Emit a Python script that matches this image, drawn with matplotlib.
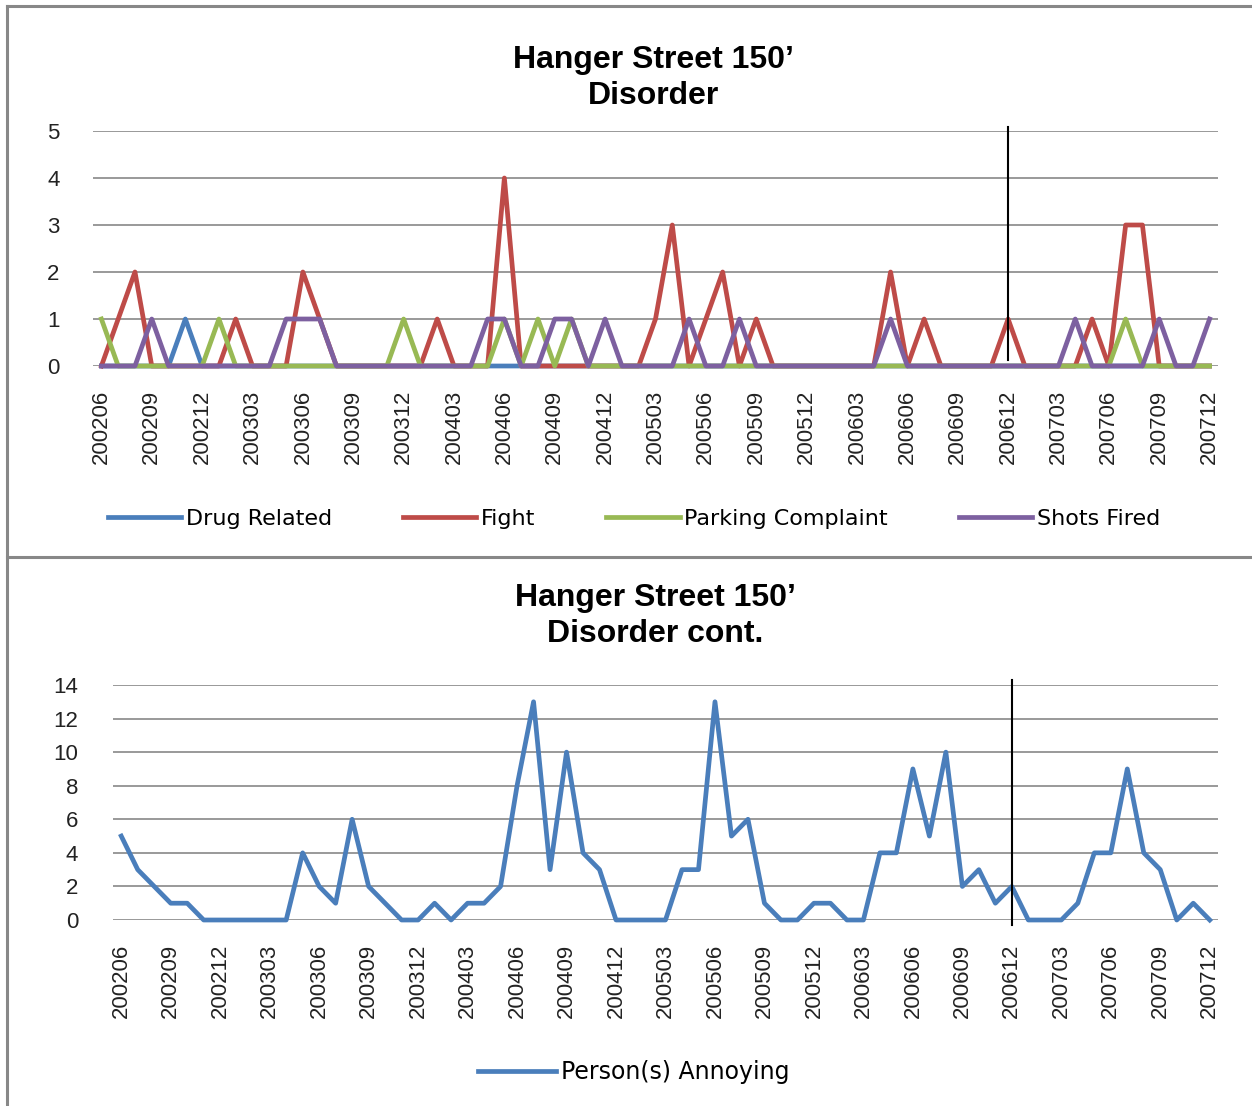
import numpy as np
import pandas as pd
import matplotlib
matplotlib.use("Agg")
import matplotlib.pyplot as plt
from matplotlib.lines import Line2D

plt.rcParams["font.family"] = ["DejaVu Sans"]

# --- data ---
months = [p.strftime("%Y%m") for p in pd.period_range("2002-06", "2007-12", freq="M")]

drug_related = [0, 0, 0, 0, 0, 1, 0, 0, 0, 0, 0, 0, 0, 0, 0, 0, 0, 0, 0, 0,
                0, 0, 0, 0, 0, 0, 0, 0, 0, 0, 0, 0, 0, 0, 0, 0, 0, 0, 0, 0,
                0, 0, 0, 0, 0, 0, 0, 0, 0, 0, 0, 0, 0, 0, 0, 0, 0, 0, 0, 0,
                0, 0, 0, 0, 0, 0, 0]
fight = [0, 1, 2, 0, 0, 0, 0, 0, 1, 0, 0, 0, 2, 1, 0, 0, 0, 0, 0, 0,
         1, 0, 0, 0, 4, 0, 0, 0, 0, 0, 0, 0, 0, 1, 3, 0, 1, 2, 0, 1,
         0, 0, 0, 0, 0, 0, 0, 2, 0, 1, 0, 0, 0, 0, 1, 0, 0, 0, 0, 1,
         0, 3, 3, 0, 0, 0, 0]
parking = [1, 0, 0, 0, 0, 0, 0, 1, 0, 0, 0, 0, 0, 0, 0, 0, 0, 0, 1, 0,
           0, 0, 0, 0, 1, 0, 1, 0, 1, 0, 0, 0, 0, 0, 0, 0, 0, 0, 0, 0,
           0, 0, 0, 0, 0, 0, 0, 0, 0, 0, 0, 0, 0, 0, 0, 0, 0, 0, 0, 0,
           0, 1, 0, 0, 0, 0, 0]
shots_fired = [0, 0, 0, 1, 0, 0, 0, 0, 0, 0, 0, 1, 1, 1, 0, 0, 0, 0, 0, 0,
               0, 0, 0, 1, 1, 0, 0, 1, 1, 0, 1, 0, 0, 0, 0, 1, 0, 0, 1, 0,
               0, 0, 0, 0, 0, 0, 0, 1, 0, 0, 0, 0, 0, 0, 0, 0, 0, 0, 1, 0,
               0, 0, 0, 1, 0, 0, 1]
persons_annoying = [5, 3, 2, 1, 1, 0, 0, 0, 0, 0, 0, 4, 2, 1, 6, 2, 1, 0, 0, 1,
                    0, 1, 1, 2, 8, 13, 3, 10, 4, 3, 0, 0, 0, 0, 3, 3, 13, 5, 6, 1,
                    0, 0, 1, 1, 0, 0, 4, 4, 9, 5, 10, 2, 3, 1, 2, 0, 0, 0, 1, 4,
                    4, 9, 4, 3, 0, 1, 0]

marker_month = "200612"

top_series = [
    ("Drug Related", drug_related, "#4A7EBB"),
    ("Fight", fight, "#BE4B48"),
    ("Parking Complaint", parking, "#98B954"),
    ("Shots Fired", shots_fired, "#7D60A0"),
]

W, H = 1252, 1106
fig = plt.figure(figsize=(W / 100, H / 100), dpi=100)
x = np.arange(len(months))
grid_col = "#878787"


def style_axes(ax, ymax, ystep, ypad):
    ax.set_xlim(-0.5, len(months) - 0.5)
    ax.set_ylim(0, ymax)
    ax.set_yticks(np.arange(0, ymax + 1, ystep))
    ax.set_xticks(x[::3])
    ax.set_xticklabels(months[::3], rotation=90)
    for s in ax.spines.values():
        s.set_visible(False)
    ax.tick_params(axis="both", length=0, labelsize=16, labelcolor="#222222")
    ax.tick_params(axis="x", pad=17)
    ax.tick_params(axis="y", pad=ypad)
    for lab in ax.get_xticklabels() + ax.get_yticklabels():
        lab.set_family("Liberation Sans")
    ax.yaxis.grid(True, color=grid_col, linewidth=1.2)
    ax.set_axisbelow(True)


# --- top chart ---
ax1 = fig.add_axes([93 / W, 1 - 366 / H, 1125 / W, 235 / H])
style_axes(ax1, 5, 1, 24)
handles = []
for name, vals, col in top_series:
    (h,) = ax1.plot(x, vals, color=col, linewidth=3.4, label=name, clip_on=False)
    handles.append(h)
ax1.axvline(months.index(marker_month), ymin=0.026, ymax=1.018, color="black",
            linewidth=1.5, clip_on=False)

fig.text(653 / W, 1 - 78 / H, "Hanger Street 150’\nDisorder", ha="center", va="center",
         fontsize=23, fontweight="bold", family="Liberation Sans", linespacing=1.3)
fig.legend(handles=handles, loc="center", bbox_to_anchor=(634 / W, 1 - 519 / H),
           ncol=4, frameon=False, fontsize=16, handlelength=3.3, handletextpad=0.2,
           columnspacing=3.2)

# --- bottom chart ---
ax2 = fig.add_axes([113 / W, 1 - 920 / H, 1105 / W, 235 / H])
style_axes(ax2, 14, 2, 25)
(h2,) = ax2.plot(x, persons_annoying, color="#4A7EBB", linewidth=3.4,
                 label="Person(s) Annoying", clip_on=False)
ax2.axvline(months.index(marker_month), ymin=-0.02, ymax=1.02, color="black",
            linewidth=1.5, clip_on=False)

fig.text(655 / W, 1 - 616 / H, "Hanger Street 150’\nDisorder cont.", ha="center", va="center",
         fontsize=23, fontweight="bold", family="Liberation Sans", linespacing=1.3)
fig.legend(handles=[h2], loc="center", bbox_to_anchor=(634 / W, 1 - 1072 / H),
           frameon=False, fontsize=17, handlelength=3.3, handletextpad=0.2)

# --- frame lines ---
border = "#888888"
fig.add_artist(Line2D([7 / W, 1], [1 - 6 / H, 1 - 6 / H], color=border, linewidth=2.2))
fig.add_artist(Line2D([7 / W, 7 / W], [0, 1 - 6 / H], color=border, linewidth=2.2))
fig.add_artist(Line2D([7 / W, 1], [1 - 557 / H, 1 - 557 / H], color=border, linewidth=2.2))

fig.savefig("out.png", dpi=100)
